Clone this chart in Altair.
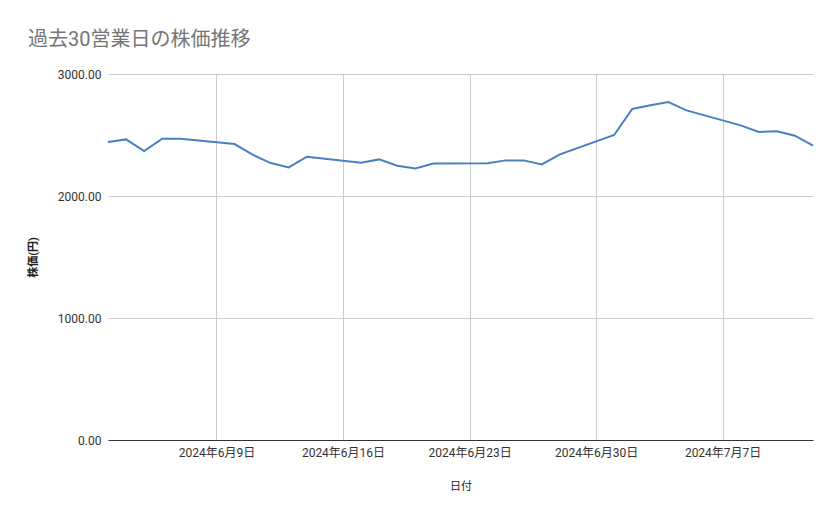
import altair as alt
import pandas as pd

# 過去30営業日 (business days only)
dates = [
    "2024-06-03", "2024-06-04", "2024-06-05", "2024-06-06", "2024-06-07",
    "2024-06-10", "2024-06-11", "2024-06-12", "2024-06-13", "2024-06-14",
    "2024-06-17", "2024-06-18", "2024-06-19", "2024-06-20", "2024-06-21",
    "2024-06-24", "2024-06-25", "2024-06-26", "2024-06-27", "2024-06-28",
    "2024-07-01", "2024-07-02", "2024-07-03", "2024-07-04", "2024-07-05",
    "2024-07-08", "2024-07-09", "2024-07-10", "2024-07-11", "2024-07-12",
]
prices = [
    2443, 2464, 2369, 2470, 2469,
    2426, 2339, 2270, 2234, 2322,
    2273, 2300, 2248, 2226, 2267,
    2268, 2292, 2292, 2259, 2341,
    2500, 2713, 2743, 2770, 2702,
    2579, 2525, 2530, 2494, 2412,
]
tick_dates = ["2024-06-09", "2024-06-16", "2024-06-23", "2024-06-30", "2024-07-07"]
y_ticks = [0, 1000, 2000, 3000]

df = pd.DataFrame({"date": dates, "price": prices})

FONT = "Roboto, Noto Sans CJK JP"


def utc_dt(s):
    y, m, d = (int(p) for p in s.split("-"))
    return alt.DateTime(year=y, month=m, date=d, utc=True)


chart = (
    alt.Chart(df)
    .mark_line(color="#4a7fc1", strokeWidth=2)
    .encode(
        x=alt.X(
            "date:T",
            title="日付",
            scale=alt.Scale(type="utc", domain=[utc_dt(dates[0]), utc_dt(dates[-1])]),
            axis=alt.Axis(
                values=[utc_dt(d) for d in tick_dates],
                labelExpr="utcFormat(datum.value, '%Y年%-m月%-d日')",
                grid=True,
                gridColor="#cccccc",
                ticks=False,
                domainColor="#333333",
                labelPadding=7,
                titlePadding=22,
                labelFontSize=12,
                titleFontSize=11,
                titleFontWeight="normal",
            ),
        ),
        y=alt.Y(
            "price:Q",
            title="株価(円)",
            scale=alt.Scale(domain=[0, 3000]),
            axis=alt.Axis(
                values=y_ticks,
                format=".2f",
                grid=True,
                gridColor="#cccccc",
                domain=False,
                ticks=False,
                labelPadding=7,
                titlePadding=19,
                labelFontSize=12,
                titleFontSize=11,
                titleFontWeight="bold",
            ),
        ),
    )
    .properties(
        width=705,
        height=366,
        padding={"left": 100, "top": 66, "right": 18, "bottom": 70},
        autosize=alt.AutoSizeParams(type="none"),
        title=alt.TitleParams(
            "過去30営業日の株価推移",
            anchor="start",
            frame="group",
            dx=-80,
            offset=18,
            fontSize=20,
            fontWeight="normal",
            color="#757575",
            font=FONT,
        ),
    )
    .configure_axis(labelFont=FONT, titleFont=FONT, labelColor="#333333", titleColor="#222222")
    .configure_view(stroke=None)
)

chart.save("out.html", embed_options={"renderer": "svg", "actions": False})
